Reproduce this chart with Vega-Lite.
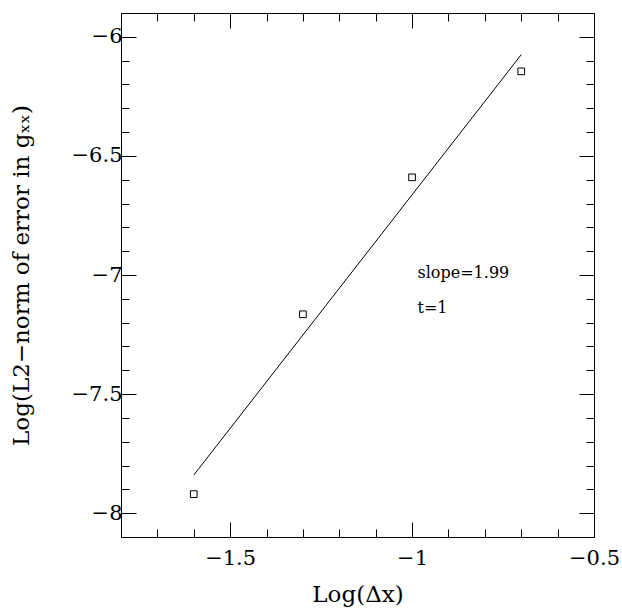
{
  "$schema": "https://vega.github.io/schema/vega-lite/v6.json",
  "autosize": "none",
  "width": 473,
  "height": 524,
  "padding": {"left": 121, "top": 13, "right": 28, "bottom": 75},
  "background": "white",
  "config": {
    "view": {"stroke": "black", "strokeWidth": 1},
    "font": "DejaVu Serif",
    "axis": {
      "domainColor": "black",
      "tickColor": "black",
      "labelColor": "black",
      "titleColor": "black",
      "labelFont": "DejaVu Serif",
      "titleFont": "DejaVu Serif",
      "labelFontSize": 21,
      "titleFontSize": 23,
      "titleFontWeight": "normal",
      "labelFlush": false,
      "labelOverlap": false,
      "grid": false,
      "format": "~g"
    }
  },
  "layer": [
    {
      "data": {"values": [
        {"x": -1.6, "y": -7.92},
        {"x": -1.3, "y": -7.165},
        {"x": -1.0, "y": -6.59},
        {"x": -0.7, "y": -6.145}
      ]},
      "mark": {"type": "point", "shape": "square", "size": 45, "filled": false, "stroke": "black", "strokeWidth": 1, "opacity": 1},
      "encoding": {
        "x": {
          "field": "x", "type": "quantitative",
          "scale": {"domain": [-1.8, -0.5], "nice": false, "zero": false},
          "axis": {
            "orient": "bottom",
            "title": "Log(Δx)",
            "values": [-1.7,-1.6,-1.5,-1.4,-1.3,-1.2,-1.1,-1.0,-0.9,-0.8,-0.7,-0.6,-0.5],
            "tickSize": {"condition": {"test": "abs(datum.value*2-round(datum.value*2))<0.000001", "value": -15}, "value": -8},
            "labelExpr": "abs(datum.value*2-round(datum.value*2))<0.000001 ? datum.label : ''",
            "labelPadding": 25,
            "titlePadding": 8
          }
        },
        "y": {
          "field": "y", "type": "quantitative",
          "scale": {"domain": [-8.1, -5.9], "nice": false, "zero": false},
          "axis": {
            "orient": "left",
            "title": "Log(L2−norm of error in gₓₓ)",
            "values": [-8.0,-7.9,-7.8,-7.7,-7.6,-7.5,-7.4,-7.3,-7.2,-7.1,-7.0,-6.9,-6.8,-6.7,-6.6,-6.5,-6.4,-6.3,-6.2,-6.1,-6.0],
            "tickSize": {"condition": {"test": "abs(datum.value*2-round(datum.value*2))<0.000001", "value": -15}, "value": -8},
            "labelExpr": "abs(datum.value*2-round(datum.value*2))<0.000001 ? datum.label : ''",
            "labelPadding": 14,
            "titlePadding": 38
          }
        }
      }
    },
    {
      "data": {"values": [
        {"x": -1.6, "y": -7.84},
        {"x": -0.7, "y": -6.075}
      ]},
      "mark": {"type": "line", "color": "black", "strokeWidth": 1},
      "encoding": {
        "x": {
          "field": "x", "type": "quantitative",
          "scale": {"domain": [-1.8, -0.5], "nice": false, "zero": false},
          "axis": {
            "orient": "top",
            "title": null,
            "labels": false,
            "values": [-1.7,-1.6,-1.5,-1.4,-1.3,-1.2,-1.1,-1.0,-0.9,-0.8,-0.7,-0.6,-0.5],
            "tickSize": {"condition": {"test": "abs(datum.value*2-round(datum.value*2))<0.000001", "value": -15}, "value": -8}
          }
        },
        "y": {
          "field": "y", "type": "quantitative",
          "scale": {"domain": [-8.1, -5.9], "nice": false, "zero": false},
          "axis": {
            "orient": "right",
            "title": null,
            "labels": false,
            "values": [-8.0,-7.9,-7.8,-7.7,-7.6,-7.5,-7.4,-7.3,-7.2,-7.1,-7.0,-6.9,-6.8,-6.7,-6.6,-6.5,-6.4,-6.3,-6.2,-6.1,-6.0],
            "tickSize": {"condition": {"test": "abs(datum.value*2-round(datum.value*2))<0.000001", "value": -15}, "value": -8}
          }
        }
      }
    },
    {
      "data": {"values": [
        {"x": -0.985, "y": -6.99, "label": "slope=1.99"},
        {"x": -0.985, "y": -7.14, "label": "t=1"}
      ]},
      "mark": {"type": "text", "align": "left", "baseline": "middle", "fontSize": 16, "font": "DejaVu Serif", "color": "black"},
      "encoding": {
        "x": {"field": "x", "type": "quantitative", "axis": null},
        "y": {"field": "y", "type": "quantitative", "axis": null},
        "text": {"field": "label"}
      }
    }
  ],
  "resolve": {"axis": {"x": "independent", "y": "independent"}}
}
